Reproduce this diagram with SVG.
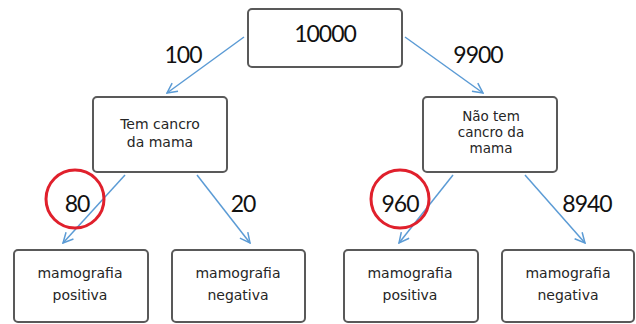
<svg xmlns="http://www.w3.org/2000/svg" width="636" height="324" viewBox="0 0 636 324">
<defs>
<style>
.box{fill:#fff;stroke:#595959;stroke-width:2}
.lbl{font-family:"DejaVu Sans","Open Sans",sans-serif;font-size:14px;fill:#262626;text-anchor:middle}
.sm{font-size:13.5px}
.num{font-family:"Lato","Liberation Sans",sans-serif;font-size:23px;fill:#111;text-anchor:middle;letter-spacing:-1px}
.edge{stroke:#5b9bd5;stroke-width:1.5;fill:none;marker-end:url(#arr)}
.ring{fill:none;stroke:#e0202c;stroke-width:3}
</style>
<marker id="arr" viewBox="0 0 12 12" refX="11" refY="6" markerWidth="12" markerHeight="12" markerUnits="userSpaceOnUse" orient="auto">
<path d="M1,1 L11,6 L1,11" fill="none" stroke="#5b9bd5" stroke-width="1.5"/>
</marker>
</defs>
<rect width="636" height="324" fill="#fff"/>
<g id="connectors">
<line class="edge" x1="244" y1="37" x2="167" y2="93"/>
<line class="edge" x1="405" y1="37" x2="483" y2="93"/>
<line class="edge" x1="125" y1="175" x2="63" y2="243"/>
<line class="edge" x1="197" y1="175" x2="250" y2="243"/>
<line class="edge" x1="453" y1="175" x2="399" y2="243"/>
<line class="edge" x1="525" y1="175" x2="585" y2="243"/>
<text class="num" x="183" y="63">100</text>
<text class="num" x="478" y="63">9900</text>
<text class="num" x="77" y="212">80</text>
<text class="num" x="243" y="212">20</text>
<text class="num" x="400" y="212">960</text>
<text class="num" x="587" y="212">8940</text>
<circle class="ring" cx="75" cy="199" r="29"/>
<circle class="ring" cx="400" cy="199" r="29"/>
</g>
<g id="root">
<rect class="box" x="248" y="9" width="154" height="58" rx="4"/>
<text class="num" x="325" y="42">10000</text>
</g>
<g id="tem">
<rect class="box" x="93" y="97" width="134" height="75" rx="4"/>
<text class="lbl" x="160" y="129">Tem cancro<tspan x="160" dy="18">da mama</tspan></text>
</g>
<g id="naotem">
<rect class="box" x="423" y="97" width="134" height="75" rx="4"/>
<text class="lbl sm" x="491" y="121">Não tem<tspan x="491" dy="16">cancro da</tspan><tspan x="491" dy="16">mama</tspan></text>
</g>
<g id="pos1">
<rect class="box" x="14" y="250" width="134" height="72" rx="4"/>
<text class="lbl" x="80" y="278">mamografia<tspan x="80" dy="22">positiva</tspan></text>
</g>
<g id="neg1">
<rect class="box" x="172" y="250" width="133" height="72" rx="4"/>
<text class="lbl" x="238" y="278">mamografia<tspan x="238" dy="22">negativa</tspan></text>
</g>
<g id="pos2">
<rect class="box" x="344" y="250" width="134" height="72" rx="4"/>
<text class="lbl" x="410" y="278">mamografia<tspan x="410" dy="22">positiva</tspan></text>
</g>
<g id="neg2">
<rect class="box" x="502" y="250" width="132" height="72" rx="4"/>
<text class="lbl" x="568" y="278">mamografia<tspan x="568" dy="22">negativa</tspan></text>
</g>
</svg>
